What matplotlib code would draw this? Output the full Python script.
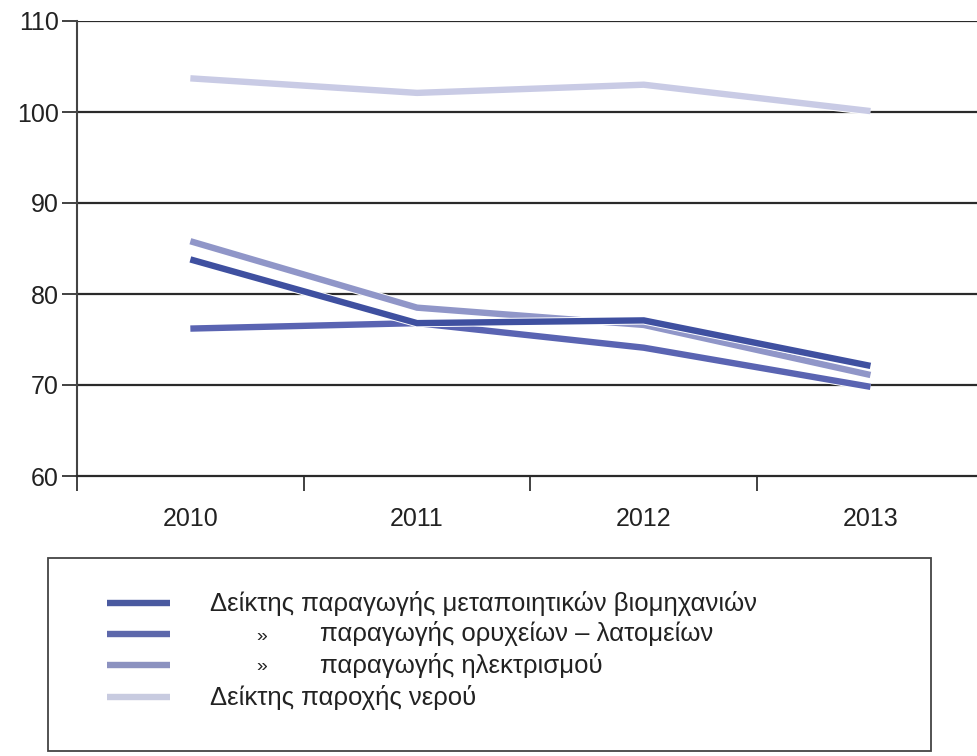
import matplotlib
matplotlib.use("Agg")
import matplotlib.pyplot as plt
import matplotlib.patheffects as pe
from matplotlib.lines import Line2D
from matplotlib.patches import Rectangle

plt.rcParams['font.family'] = ['Liberation Sans', 'DejaVu Sans']

years = ["2010", "2011", "2012", "2013"]
manufacturing = [83.8, 76.8, 77.1, 72.1]
mines = [76.2, 76.8, 74.1, 69.8]
electricity = [85.8, 78.5, 76.6, 71.1]
water = [103.7, 102.1, 103.0, 100.1]

labels = ["Δείκτης παραγωγής μεταποιητικών βιομηχανιών",
          "παραγωγής ορυχείων – λατομείων",
          "παραγωγής ηλεκτρισμού",
          "Δείκτης παροχής νερού"]
colors = ["#3f50a0", "#5a64b2", "#9096c8", "#c9cbe5"]
legend_colors = ["#4a5aa0", "#5d68ab", "#8c92c0", "#c8cbe0"]

fig = plt.figure(figsize=(9.77, 7.56), dpi=100)
ax = fig.add_axes([77/977, 1 - 476/756, 1 - 77/977, 455/756])

x = list(range(len(years)))
series = [water, electricity, mines, manufacturing]
scol = [colors[3], colors[2], colors[1], colors[0]]
for s, c in zip(series, scol):
    ax.plot(x, s, color=c, lw=4.6, solid_capstyle='butt', solid_joinstyle='miter', zorder=3,
            path_effects=[pe.Stroke(linewidth=6.0, foreground='white'), pe.Normal()])

ax.set_ylim(60, 110)
ax.set_xlim(-0.5, -0.5 + 900/226.7)
ax.set_yticks([60, 70, 80, 90, 100, 110])
for yv in [70, 80, 90, 100, 110]:
    ax.axhline(yv, color='#2a2a2a', lw=1.6, zorder=1)

ax.set_xticks([-0.5, 0.5, 1.5, 2.5])
ax.set_xticklabels([])
ax.set_xticks(x, minor=True)
ax.set_xticklabels(years, minor=True)
ax.tick_params(axis='x', which='major', direction='out', length=11, width=1.3, color='#333333')
ax.tick_params(axis='x', which='minor', length=0, pad=22, labelsize=18, labelcolor='#222222')
ax.tick_params(axis='y', direction='out', length=11, width=1.3, color='#333333', pad=2,
               labelsize=18, labelcolor='#222222')

for sp in ['top', 'right']:
    ax.spines[sp].set_visible(False)
ax.spines['left'].set_color('#444444')
ax.spines['left'].set_linewidth(1.5)
ax.spines['bottom'].set_color('#2a2a2a')
ax.spines['bottom'].set_linewidth(1.6)

# Legend box drawn in figure coordinates
W, H = 977, 756
def fx(px): return px / W
def fy(py): return 1 - py / H

fig.patches.append(Rectangle((fx(48), fy(751)), fx(931) - fx(48), fy(558) - fy(751),
                             transform=fig.transFigure, fill=False, edgecolor='#444444', lw=1.3))
rows = [603, 634, 665, 697]
for i, (lab, c, yy) in enumerate(zip(labels, legend_colors, rows)):
    fig.add_artist(Line2D([fx(107), fx(170)], [fy(yy), fy(yy)], color=c, lw=4.6,
                          solid_capstyle='butt', transform=fig.transFigure))
    if i in (1, 2):
        fig.text(fx(256), fy(yy + 2), "»", fontsize=14, color='#222222', va='center', ha='left')
        fig.text(fx(320), fy(yy), lab, fontsize=18.5, color='#222222', va='center', ha='left')
    else:
        fig.text(fx(210), fy(yy), lab, fontsize=18.5, color='#222222', va='center', ha='left')

fig.savefig("out.png", dpi=100, facecolor='white')
